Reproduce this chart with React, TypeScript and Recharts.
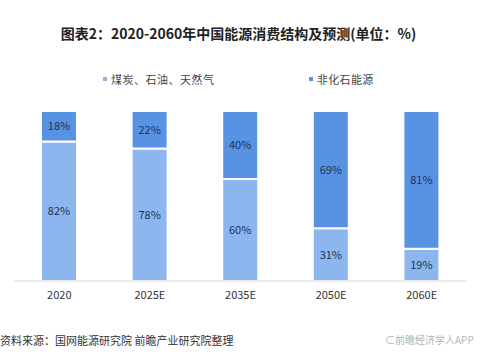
import React from 'react';
import { BarChart, Bar, XAxis, YAxis, LabelList } from 'recharts';

const categories = ['2020', '2025E', '2035E', '2050E', '2060E'];
const fossil = [82, 78, 60, 31, 19];
const nonFossil = [18, 22, 40, 69, 81];
const boundaryTicks = [0, 1, 2, 3, 4, 5];

const seriesNames = ['煤炭、石油、天然气', '非化石能源'];
const colors = ['#8db6ef', '#5892e2'];

const data = categories.map((c, i) => ({ cat: c, idx: i + 0.5, fossil: fossil[i], nonFossil: nonFossil[i] }));

const font = '"Noto Sans CJK SC", "Microsoft YaHei", sans-serif';

export default function App() {
  return (
    <div style={{ position: 'absolute', left: 0, top: 0, width: 499, height: 363, background: '#fff', fontFamily: font, overflow: 'hidden' }}>
      <div style={{ position: 'absolute', left: 0, width: 477, top: 23, height: 20, lineHeight: '20px', textAlign: 'center', fontSize: 14, fontWeight: 'bold', color: '#222' }}>
        图表2：2020-2060年中国能源消费结构及预测(单位：%)
      </div>
      <div style={{ position: 'absolute', left: 103, top: 71, height: 16, lineHeight: '16px', fontSize: 11, color: '#444', letterSpacing: 0.5, display: 'flex', alignItems: 'center' }}>
        <span style={{ display: 'inline-block', width: 4, height: 4, background: colors[0], marginRight: 4 }} />
        {seriesNames[0]}
      </div>
      <div style={{ position: 'absolute', left: 309, top: 71, height: 16, lineHeight: '16px', fontSize: 11, color: '#444', letterSpacing: 0.3, display: 'flex', alignItems: 'center' }}>
        <span style={{ display: 'inline-block', width: 4, height: 4, background: colors[1], marginRight: 4 }} />
        {seriesNames[1]}
      </div>
      <BarChart width={499} height={363} data={data} margin={{ top: 111, right: 32, left: 14, bottom: 52 }} barSize={36}>
        <YAxis hide domain={[0, 100]} />
        <XAxis xAxisId="grid" type="number" dataKey="idx" domain={[0, 5]} ticks={boundaryTicks} height={0} axisLine={false} tick={false} tickLine={{ stroke: '#d6d6d6' }} tickSize={4} />
        <XAxis dataKey="cat" axisLine={{ stroke: '#d9d9d9' }} tickLine={false} height={30} tick={{ fontSize: 11, fill: '#333', fontFamily: font }} dy={2} />
        <Bar dataKey="fossil" stackId="a" fill={colors[0]} stroke="#fff" strokeWidth={2} isAnimationActive={false}>
          <LabelList dataKey="fossil" position="center" formatter={(v: any) => `${v}%`} style={{ fontSize: 11, fill: '#1e3357', fontFamily: font }} />
        </Bar>
        <Bar dataKey="nonFossil" stackId="a" fill={colors[1]} stroke="#fff" strokeWidth={2} isAnimationActive={false}>
          <LabelList dataKey="nonFossil" position="center" formatter={(v: any) => `${v}%`} style={{ fontSize: 11, fill: '#1e3357', fontFamily: font }} />
        </Bar>
      </BarChart>
      <div style={{ position: 'absolute', left: 0, top: 331, height: 18, lineHeight: '18px', fontSize: 11, color: '#333' }}>
        资料来源：国网能源研究院 前瞻产业研究院整理
      </div>
      <div style={{ position: 'absolute', left: 385, top: 331, height: 18, lineHeight: '18px', fontSize: 10, color: '#b5b5b5' }}>
        ⊂前瞻经济学人APP
      </div>
    </div>
  );
}
